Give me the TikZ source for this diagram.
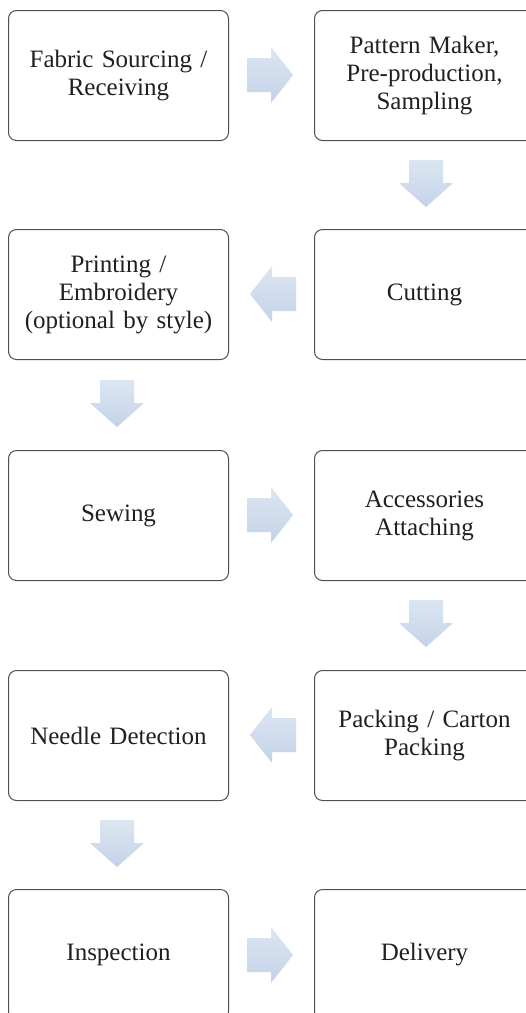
\documentclass[tikz,border=0pt]{standalone}
\usepackage{fontspec}
\setmainfont{Liberation Serif}[WordSpace=0.7]
\definecolor{boxline}{HTML}{505050}
\definecolor{txt}{HTML}{231F20}
\definecolor{arrtop}{HTML}{DCE6F2}
\definecolor{arrbot}{HTML}{C3D3E8}
\begin{document}
\begin{tikzpicture}[x=1pt,y=-1pt,
  stepbox/.style={draw=boxline, line width=1pt, rounded corners=8pt, fill=white,
    minimum width=220pt, minimum height=130pt, anchor=north west, inner sep=2pt,
    align=center, text width=216pt, text=txt,
    font=\fontsize{25pt}{28pt}\selectfont},
  flow/.style={top color=arrtop, bottom color=arrbot, draw=none}]
\clip (0,0) rectangle (526,1013);
\fill[white] (0,0) rectangle (526,1013);
% boxes
\node[stepbox] (b1) at (8,10) {Fabric Sourcing /\\Receiving};
\node[stepbox] (b2) at (314,10) {Pattern Maker,\\Pre-production,\\Sampling};
\node[stepbox] (b3) at (8,229) {Printing /\\Embroidery\\(optional by style)};
\node[stepbox] (b4) at (314,229) {Cutting};
\node[stepbox] (b5) at (8,450) {Sewing};
\node[stepbox] (b6) at (314,450) {Accessories\\Attaching};
\node[stepbox] (b7) at (8,670) {Needle Detection};
\node[stepbox] (b8) at (314,670) {Packing / Carton\\Packing};
\node[stepbox] (b9) at (8,889) {Inspection};
\node[stepbox] (b10) at (314,889) {Delivery};
% arrows: right
\foreach \cy in {75,515,955}{
  \shade[flow] (247,\cy-17) -- (271,\cy-17) -- (271,\cy-28) -- (293,\cy) -- (271,\cy+28) -- (271,\cy+17) -- (247,\cy+17) -- cycle;
}
% arrows: left
\foreach \cy in {294,735}{
  \shade[flow] (296,\cy-17) -- (272,\cy-17) -- (272,\cy-28) -- (250,\cy) -- (272,\cy+28) -- (272,\cy+17) -- (296,\cy+17) -- cycle;
}
% arrows: down right column
\foreach \ty in {160,600}{
  \shade[flow] (409,\ty) -- (443,\ty) -- (443,\ty+23) -- (453,\ty+23) -- (426,\ty+47) -- (399,\ty+23) -- (409,\ty+23) -- cycle;
}
% arrows: down left column
\foreach \ty in {380,820}{
  \shade[flow] (100,\ty) -- (134,\ty) -- (134,\ty+23) -- (144,\ty+23) -- (117,\ty+47) -- (90,\ty+23) -- (100,\ty+23) -- cycle;
}
\end{tikzpicture}
\end{document}
